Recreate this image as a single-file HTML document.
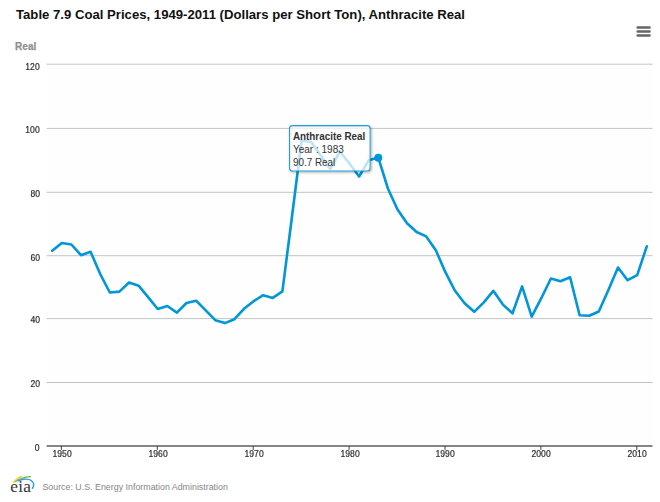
<!DOCTYPE html>
<html><head><meta charset="utf-8"><title>Table 7.9 Coal Prices</title>
<style>
html,body{margin:0;padding:0;background:#fff;}
body{width:660px;height:502px;overflow:hidden;position:relative;font-family:"Liberation Sans",Arial,sans-serif;}
svg{display:block;position:absolute;left:0;top:0;}
text{font-family:"Liberation Sans",Arial,sans-serif;}
.yl,.xl{position:absolute;font-size:10px;line-height:12px;height:12px;color:#262626;-webkit-text-stroke:0.2px #262626;white-space:nowrap;transform:rotateX(28.96deg);}
.yl{left:0;width:40px;text-align:right;transform-origin:100% 9px;}
.xl{width:40px;text-align:center;transform-origin:50% 9px;}
.yl span,.xl span{display:inline-block;transform:scaleX(0.86);}
.yl span{transform-origin:100% 50%;}
.xl span{transform-origin:50% 50%;}
</style></head><body>
<svg width="660" height="502" viewBox="0 0 660 502">
<rect width="660" height="502" fill="#fff"/>
<rect x="46.6" y="64" width="605.9" height="382" fill="#fefefe"/>
<text x="16" y="19.4" font-size="13.5" font-weight="bold" fill="#111" textLength="449" lengthAdjust="spacingAndGlyphs">Table 7.9 Coal Prices, 1949-2011 (Dollars per Short Ton), Anthracite Real</text>
<text x="15.1" y="49.8" font-size="10" font-weight="bold" fill="#8f8f8f" stroke="#8f8f8f" stroke-width="0.25">Real</text>
<g stroke="#666" stroke-width="2.6" stroke-linecap="round"><path d="M637.7 27.5 H649.5 M637.7 31.5 H649.5 M637.7 35.5 H649.5"/></g>
<g stroke="#c4c4c4" stroke-width="1" fill="none"><path d="M46.6 64.2 H652.5"/><path d="M46.6 128.4 H652.5"/><path d="M46.6 192.3 H652.5"/><path d="M46.6 255.7 H652.5"/><path d="M46.6 318.6 H652.5"/><path d="M46.6 382.5 H652.5"/></g>
<path d="M46.6 446.1 H652.5" stroke="#5c5c5c" stroke-width="1.5" fill="none"/>
<g stroke="#2b2b2b" stroke-width="0.9" fill="none"><path d="M61.4 446.1 v3.8"/><path d="M157.3 446.1 v3.8"/><path d="M253.2 446.1 v3.8"/><path d="M349.1 446.1 v3.8"/><path d="M445.0 446.1 v3.8"/><path d="M540.9 446.1 v3.8"/><path d="M636.8 446.1 v3.8"/></g>

<path d="M52.2 250.8 L61.8 243.0 L71.4 244.5 L81.0 255.2 L90.6 251.8 L100.2 274.0 L109.8 292.5 L119.4 291.6 L129.0 282.5 L138.6 285.7 L148.1 297.2 L157.7 309.0 L167.3 306.0 L176.9 312.6 L186.5 303.0 L196.1 300.7 L205.7 310.4 L215.3 320.2 L224.9 323.1 L234.4 319.2 L244.0 308.8 L253.6 301.2 L263.2 295.2 L272.8 297.9 L282.4 291.4 L292.0 216.5 L301.6 140.5 L311.2 142.0 L320.7 155.5 L330.3 169.0 L339.9 151.5 L349.5 163.5 L359.1 176.5 L368.7 160.3 L378.3 157.6 L387.9 188.5 L397.5 209.5 L407.0 223.3 L416.6 232.0 L426.2 236.4 L435.8 250.2 L445.4 272.2 L455.0 290.8 L464.6 303.3 L474.2 311.8 L483.8 302.3 L493.3 290.8 L502.9 304.6 L512.5 313.3 L522.1 286.4 L531.7 316.7 L541.3 298.2 L550.9 278.5 L560.5 281.2 L570.1 277.3 L579.6 315.2 L589.2 315.7 L598.8 311.5 L608.4 290.0 L618.0 267.5 L627.6 280.2 L637.2 275.2 L646.8 246.3" fill="none" stroke="#0096d7" stroke-width="2.6" stroke-linejoin="round" stroke-linecap="round"/>
<circle cx="378.3" cy="157.8" r="4" fill="#0096d7"/>
<g fill="none" stroke="#000" transform="translate(1 1)">
<rect x="289.5" y="125.6" width="80.6" height="45.3" rx="3" stroke-opacity="0.04" stroke-width="5"/>
<rect x="289.5" y="125.6" width="80.6" height="45.3" rx="3" stroke-opacity="0.08" stroke-width="3"/>
<rect x="289.5" y="125.6" width="80.6" height="45.3" rx="3" stroke-opacity="0.12" stroke-width="1"/>
</g>
<rect x="289.5" y="125.6" width="80.6" height="45.3" rx="3" fill="#fff" fill-opacity="0.74" stroke="#239edb" stroke-width="1.05"/>
<g font-size="10.6" fill="#333">
<text x="292.9" y="140" font-weight="bold" textLength="72.4" lengthAdjust="spacingAndGlyphs">Anthracite Real</text>
<text x="292.9" y="153" textLength="50.9" lengthAdjust="spacingAndGlyphs">Year : 1983</text>
<text x="292.9" y="166" textLength="42.4" lengthAdjust="spacingAndGlyphs">90.7 Real</text>
</g>
<g fill="none" stroke-linecap="round">
<path d="M13.7 482.3 Q16.8 478.2 21.4 476.5" stroke="#f6cb45" stroke-width="1.7"/>
<path d="M15.7 481.6 Q20.5 477.3 30.5 476.6" stroke="#74b051" stroke-width="1.25"/>
<path d="M18.4 480.8 C23 478.6 29.5 478.2 32.4 481.6 C34.5 484.1 33.8 486.4 32.4 488.3" stroke="#2fa2dc" stroke-width="1.45"/>
</g>
<text x="10.3" y="491.8" font-size="17.3" letter-spacing="0.25" fill="#333" opacity="0.99" style="font-family:'Liberation Serif',serif">eia</text>
<text x="42.4" y="489.7" font-size="9.5" fill="#868686" textLength="185.5" lengthAdjust="spacingAndGlyphs">Source: U.S. Energy Information Administration</text>
</svg>
<div class="yl" style="top:61px"><span>120</span></div><div class="yl" style="top:124px"><span>100</span></div><div class="yl" style="top:188px"><span>80</span></div><div class="yl" style="top:252px"><span>60</span></div><div class="yl" style="top:314px"><span>40</span></div><div class="yl" style="top:378px"><span>20</span></div><div class="yl" style="top:441.5px"><span>0</span></div><div class="xl" style="left:42px;top:448px"><span>1950</span></div><div class="xl" style="left:138px;top:448px"><span>1960</span></div><div class="xl" style="left:234px;top:448px"><span>1970</span></div><div class="xl" style="left:330px;top:448px"><span>1980</span></div><div class="xl" style="left:425px;top:448px"><span>1990</span></div><div class="xl" style="left:521px;top:448px"><span>2000</span></div><div class="xl" style="left:617px;top:448px"><span>2010</span></div>
</body></html>
